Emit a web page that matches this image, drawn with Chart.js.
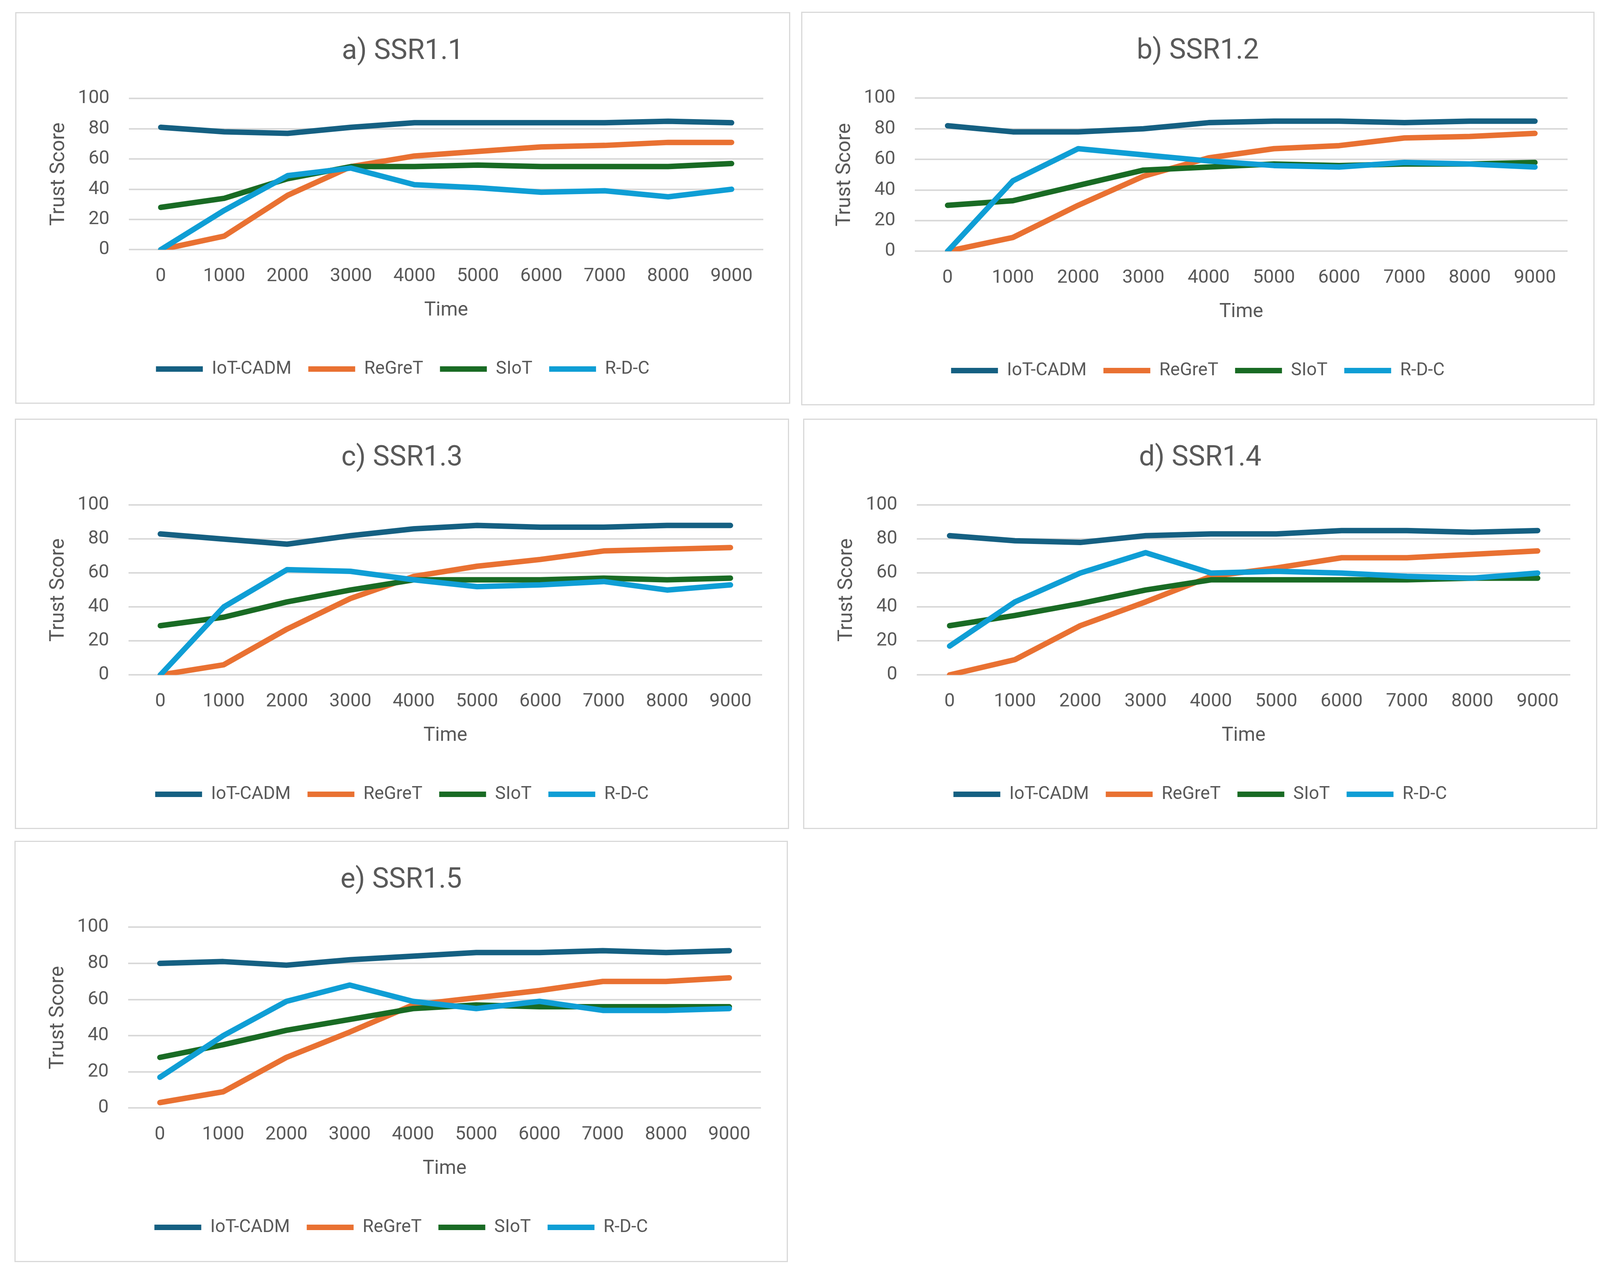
<!DOCTYPE html>
<html>
<head>
<meta charset="utf-8">
<script src="https://cdn.jsdelivr.net/npm/chart.js@4.4.0/dist/chart.umd.min.js"></script>
<style>
  html, body { margin: 0; padding: 0; background: #ffffff; }
  body { width: 4122px; height: 3265px; position: relative; overflow: hidden; }
  .panel { position: absolute; box-sizing: border-box; border: 3px solid #d9d9d9; background: #ffffff; }
  .panel canvas { display: block; }
</style>
</head>
<body>
<div class="panel" id="p0" style="left:39px; top:31px; width:1984px; height:1003px;"><canvas id="c0"></canvas></div>
<div class="panel" id="p1" style="left:2051px; top:30px; width:2031px; height:1008px;"><canvas id="c1"></canvas></div>
<div class="panel" id="p2" style="left:38px; top:1072px; width:1982px; height:1051px;"><canvas id="c2"></canvas></div>
<div class="panel" id="p3" style="left:2056px; top:1072px; width:2033px; height:1051px;"><canvas id="c3"></canvas></div>
<div class="panel" id="p4" style="left:37px; top:2153px; width:1980px; height:1079px;"><canvas id="c4"></canvas></div>
<script>
// x axis categories and series names
const timeLabels = ['0', '1000', '2000', '3000', '4000', '5000', '6000', '7000', '8000', '9000'];
const seriesNames = ['IoT-CADM', 'ReGreT', 'SIoT', 'R-D-C'];
const panelTitles = ['a) SSR1.1', 'b) SSR1.2', 'c) SSR1.3', 'd) SSR1.4', 'e) SSR1.5'];

// a) SSR1.1
const ssr11IotCadm = [81, 78, 77, 81, 84, 84, 84, 84, 85, 84];
const ssr11Regret  = [0, 9, 36, 55, 62, 65, 68, 69, 71, 71];
const ssr11Siot    = [28, 34, 47, 55, 55, 56, 55, 55, 55, 57];
const ssr11Rdc     = [0, 26, 49, 54, 43, 41, 38, 39, 35, 40];

// b) SSR1.2
const ssr12IotCadm = [82, 78, 78, 80, 84, 85, 85, 84, 85, 85];
const ssr12Regret  = [0, 9, 30, 49, 61, 67, 69, 74, 75, 77];
const ssr12Siot    = [30, 33, 43, 53, 55, 57, 56, 57, 57, 58];
const ssr12Rdc     = [0, 46, 67, 63, 59, 56, 55, 58, 57, 55];

// c) SSR1.3
const ssr13IotCadm = [83, 80, 77, 82, 86, 88, 87, 87, 88, 88];
const ssr13Regret  = [0, 6, 27, 45, 58, 64, 68, 73, 74, 75];
const ssr13Siot    = [29, 34, 43, 50, 56, 56, 56, 57, 56, 57];
const ssr13Rdc     = [0, 40, 62, 61, 56, 52, 53, 55, 50, 53];

// d) SSR1.4
const ssr14IotCadm = [82, 79, 78, 82, 83, 83, 85, 85, 84, 85];
const ssr14Regret  = [0, 9, 29, 43, 58, 63, 69, 69, 71, 73];
const ssr14Siot    = [29, 35, 42, 50, 56, 56, 56, 56, 57, 57];
const ssr14Rdc     = [17, 43, 60, 72, 60, 61, 60, 58, 57, 60];

// e) SSR1.5
const ssr15IotCadm = [80, 81, 79, 82, 84, 86, 86, 87, 86, 87];
const ssr15Regret  = [3, 9, 28, 42, 57, 61, 65, 70, 70, 72];
const ssr15Siot    = [28, 35, 43, 49, 55, 57, 56, 56, 56, 56];
const ssr15Rdc     = [17, 40, 59, 68, 59, 55, 59, 54, 54, 55];

const panelSeries = [
  [ssr11IotCadm, ssr11Regret, ssr11Siot, ssr11Rdc],
  [ssr12IotCadm, ssr12Regret, ssr12Siot, ssr12Rdc],
  [ssr13IotCadm, ssr13Regret, ssr13Siot, ssr13Rdc],
  [ssr14IotCadm, ssr14Regret, ssr14Siot, ssr14Rdc],
  [ssr15IotCadm, ssr15Regret, ssr15Siot, ssr15Rdc]
];

const seriesColors = ['#156082', '#E97132', '#196B24', '#0F9ED5'];
const textColor = '#595959';
const gridColor = '#d9d9d9';

Chart.defaults.font.family = 'Roboto';
Chart.defaults.color = textColor;

function makeChart(idx) {
  const panel = document.getElementById('p' + idx);
  const canvas = document.getElementById('c' + idx);
  canvas.style.width = panel.clientWidth + 'px';
  canvas.style.height = panel.clientHeight + 'px';
  canvas.width = panel.clientWidth;
  canvas.height = panel.clientHeight;

  const datasets = panelSeries[idx].map((values, i) => ({
    label: seriesNames[i],
    data: values,
    borderColor: seriesColors[i],
    backgroundColor: seriesColors[i],
    borderWidth: 14,
    borderJoinStyle: 'round',
    borderCapStyle: 'round',
    pointRadius: 0,
    pointHoverRadius: 0,
    tension: 0,
    fill: false,
    order: 4 - i // later series drawn on top, like Excel
  }));

  new Chart(canvas, {
    type: 'line',
    data: { labels: timeLabels, datasets: datasets },
    options: {
      responsive: false,
      animation: false,
      devicePixelRatio: 1,
      layout: { padding: { left: 0, right: 0, top: 0, bottom: 53 } },
      plugins: {
        tooltip: { enabled: false },
        title: {
          display: true,
          text: panelTitles[idx],
          color: textColor,
          font: { size: 72, weight: 'normal' },
          padding: { top: 56, bottom: 76 }
        },
        legend: {
          position: 'bottom',
          labels: {
            usePointStyle: true,
            pointStyle: 'line',
            pointStyleWidth: 120,
            boxHeight: 14,
            padding: 43,
            color: textColor,
            font: { size: 46 },
            sort: (a, b) => a.datasetIndex - b.datasetIndex
          }
        }
      },
      scales: {
        x: {
          offset: true,
          grid: { display: false, drawTicks: false },
          border: { display: false },
          ticks: { padding: 40, maxRotation: 0, autoSkip: false, color: textColor, font: { size: 48 } },
          title: {
            display: true,
            text: 'Time',
            color: textColor,
            font: { size: 50 },
            padding: { top: -12, bottom: 54 }
          }
        },
        y: {
          min: 0,
          max: 100,
          grid: { color: gridColor, lineWidth: 4, drawTicks: false },
          border: { display: false },
          ticks: { stepSize: 20, padding: 50, color: textColor, font: { size: 48 } },
          title: {
            display: true,
            text: 'Trust Score',
            color: textColor,
            font: { size: 52 },
            padding: { top: 78, bottom: -33 }
          }
        },
        // empty right-hand axis, only keeps the blank margin right of the plot
        yGap: {
          type: 'linear',
          position: 'right',
          display: true,
          grid: { display: false, drawTicks: false },
          border: { display: false },
          ticks: { display: false },
          afterFit: (scale) => { scale.width = 66; }
        }
      }
    }
  });
}

window.onload = function() {
  for (let i = 0; i < panelTitles.length; i++) {
    makeChart(i);
  }
};
</script>
</body>
</html>
